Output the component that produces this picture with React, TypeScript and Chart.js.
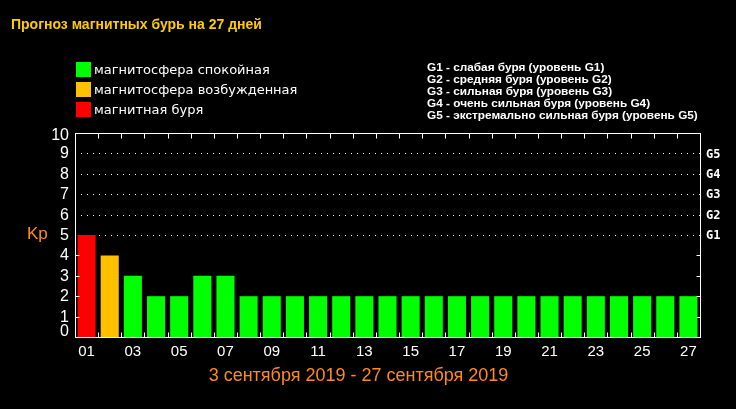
import React, { useEffect, useRef } from 'react';
import { Chart, registerables } from 'chart.js';

Chart.register(...registerables);

const titleText = 'Прогноз магнитных бурь на 27 дней';
const dateRange = '3 сентября 2019 - 27 сентября 2019';
const axisTitle = 'Kp';

const days = [
  '01', '02', '03', '04', '05', '06', '07', '08', '09', '10', '11', '12', '13', '14',
  '15', '16', '17', '18', '19', '20', '21', '22', '23', '24', '25', '26', '27',
];
const kpValues = [5, 4, 3, 2, 2, 3, 3, 2, 2, 2, 2, 2, 2, 2, 2, 2, 2, 2, 2, 2, 2, 2, 2, 2, 2, 2, 2];

const yTickValues = [0, 1, 2, 3, 4, 5, 6, 7, 8, 9, 10];
const gridValues = [5, 6, 7, 8, 9];
const gLabels = ['G1', 'G2', 'G3', 'G4', 'G5'];

const legendLabels = ['магнитосфера спокойная', 'магнитосфера возбужденная', 'магнитная буря'];
const gDescriptions = [
  'G1 - слабая буря (уровень G1)',
  'G2 - средняя буря (уровень G2)',
  'G3 - сильная буря (уровень G3)',
  'G4 - очень сильная буря (уровень G4)',
  'G5 - экстремально сильная буря (уровень G5)',
];

const GREEN = '#00ff00';
const AMBER = '#ffc000';
const RED = '#ff0000';
const ORANGE = '#ff8a1f';
const legendColors = [GREEN, AMBER, RED];

const colorFor = (v: number) => (v >= 5 ? RED : v >= 4 ? AMBER : GREEN);

const framePlugin = {
  id: 'frame',
  beforeDatasetsDraw(chart: any) {
    const { ctx, chartArea } = chart;
    const y = chart.scales.y;
    ctx.save();
    ctx.strokeStyle = '#ffffff';
    ctx.lineWidth = 1;
    ctx.setLineDash([1, 5]);
    gridValues.forEach((v) => {
      const py = Math.round(y.getPixelForValue(v)) + 0.5;
      ctx.beginPath();
      ctx.moveTo(chartArea.left, py);
      ctx.lineTo(chartArea.right, py);
      ctx.stroke();
    });
    ctx.restore();
  },
  afterDatasetsDraw(chart: any) {
    const { ctx, chartArea } = chart;
    const x = chart.scales.x;
    const y = chart.scales.y;
    const L = chartArea.left + 0.5;
    const R = chartArea.right + 0.5;
    const T = chartArea.top + 0.5;
    const B = chartArea.bottom + 0.5;
    ctx.save();
    ctx.strokeStyle = '#ffffff';
    ctx.lineWidth = 1;
    ctx.setLineDash([]);
    ctx.strokeRect(L, T, R - L, B - T);
    ctx.beginPath();
    for (let i = 0; i < days.length - 1; i++) {
      const px = Math.round((x.getPixelForValue(i) + x.getPixelForValue(i + 1)) / 2) + 0.5;
      ctx.moveTo(px, B);
      ctx.lineTo(px, B - 5);
      ctx.moveTo(px, T);
      ctx.lineTo(px, T + 5);
    }
    yTickValues.forEach((v) => {
      if (v < 1 || v > 4) return;
      const py = Math.round(y.getPixelForValue(v)) + 0.5;
      ctx.moveTo(L, py);
      ctx.lineTo(L + 4, py);
      ctx.moveTo(R, py);
      ctx.lineTo(R - 4, py);
    });
    ctx.stroke();

    ctx.fillStyle = '#ffffff';
    ctx.font = '16px "Liberation Sans", Arial, sans-serif';
    ctx.textAlign = 'right';
    ctx.textBaseline = 'middle';
    yTickValues.forEach((v) => {
      let py = y.getPixelForValue(v);
      if (v === 0) py -= 6;
      if (v === 10) py += 2.5;
      ctx.fillText(String(v), chartArea.left - 6, py + 0.5);
    });

    ctx.font = 'bold 12px "DejaVu Sans Mono", monospace';
    ctx.textAlign = 'left';
    gridValues.forEach((v, i) => {
      const py = y.getPixelForValue(v);
      ctx.fillText(gLabels[i], chartArea.right + 6, py + 1);
    });
    ctx.restore();
  },
};

export default function App() {
  const canvasRef = useRef<HTMLCanvasElement | null>(null);

  useEffect(() => {
    document.body.style.margin = '0';
    document.body.style.background = '#000';
    const canvas = canvasRef.current;
    if (!canvas) return;
    const chart = new Chart(canvas, {
      type: 'bar',
      data: {
        labels: days,
        datasets: [
          {
            data: kpValues,
            backgroundColor: kpValues.map(colorFor),
            borderWidth: 0,
            categoryPercentage: 1,
            barPercentage: 0.78,
          },
        ],
      },
      options: {
        animation: false,
        responsive: false,
        maintainAspectRatio: false,
        devicePixelRatio: 1,
        layout: { padding: { top: 133, left: 0, right: 0, bottom: 0 } },
        plugins: {
          legend: { display: false },
          tooltip: { enabled: false },
          title: { display: false },
        },
        scales: {
          x: {
            grid: { display: false, drawTicks: false },
            border: { display: false },
            ticks: {
              color: '#ffffff',
              font: { family: '"Liberation Sans", Arial, sans-serif', size: 15 },
              autoSkip: false,
              maxRotation: 0,
              minRotation: 0,
              padding: 6,
              callback: (_v: any, i: number) => (i % 2 === 0 ? days[i] : ''),
            },
            afterFit: (s: any) => {
              s.height = 72;
            },
          },
          y: {
            min: 0,
            max: 10,
            grid: { display: false, drawTicks: false },
            border: { display: false },
            ticks: { display: false, stepSize: 1 },
            afterFit: (s: any) => {
              s.width = 75;
            },
          },
          y2: {
            position: 'right',
            min: 0,
            max: 10,
            grid: { display: false, drawTicks: false },
            border: { display: false },
            ticks: { display: false },
            afterFit: (s: any) => {
              s.width = 36;
            },
          },
        },
      } as any,
      plugins: [framePlugin],
    });
    return () => chart.destroy();
  }, []);

  const abs = (style: React.CSSProperties): React.CSSProperties => ({
    position: 'absolute',
    margin: 0,
    whiteSpace: 'pre',
    ...style,
  });

  return (
    <div style={{ position: 'relative', width: 736, height: 409, background: '#000', overflow: 'hidden' }}>
      <canvas ref={canvasRef} width={736} height={409} style={{ display: 'block', position: 'absolute', left: 0, top: 0 }} />
      <div
        style={abs({
          left: 11,
          top: 17,
          font: 'bold 14px "Liberation Sans", Arial, sans-serif',
          lineHeight: '14px',
          color: '#ffcc00',
        })}
      >
        {titleText}
      </div>
      {legendLabels.map((label, i) => (
        <div
          key={label}
          style={abs({
            left: 76,
            top: 62 + i * 20,
            height: 15,
            display: 'flex',
            alignItems: 'center',
          })}
        >
          <span style={{ display: 'inline-block', width: 15, height: 15, background: legendColors[i] }} />
          <span
            style={{
              marginLeft: 3,
              color: '#ffffff',
              font: '13px "DejaVu Sans", Verdana, sans-serif',
              lineHeight: '15px',
            }}
          >
            {label}
          </span>
        </div>
      ))}
      <div
        style={abs({
          left: 427,
          top: 61,
          font: 'bold 11.8px "Liberation Sans", Arial, sans-serif',
          lineHeight: '12px',
          color: '#ffffff',
        })}
      >
        {gDescriptions.join('\n')}
      </div>
      <div
        style={abs({
          left: 27,
          top: 225,
          font: '17px "Liberation Sans", Arial, sans-serif',
          lineHeight: '17px',
          color: ORANGE,
        })}
      >
        {axisTitle}
      </div>
      <div
        style={abs({
          left: 0,
          width: 717,
          top: 366,
          textAlign: 'center',
          font: '18px "Liberation Sans", Arial, sans-serif',
          lineHeight: '18px',
          color: ORANGE,
        })}
      >
        {dateRange}
      </div>
    </div>
  );
}
